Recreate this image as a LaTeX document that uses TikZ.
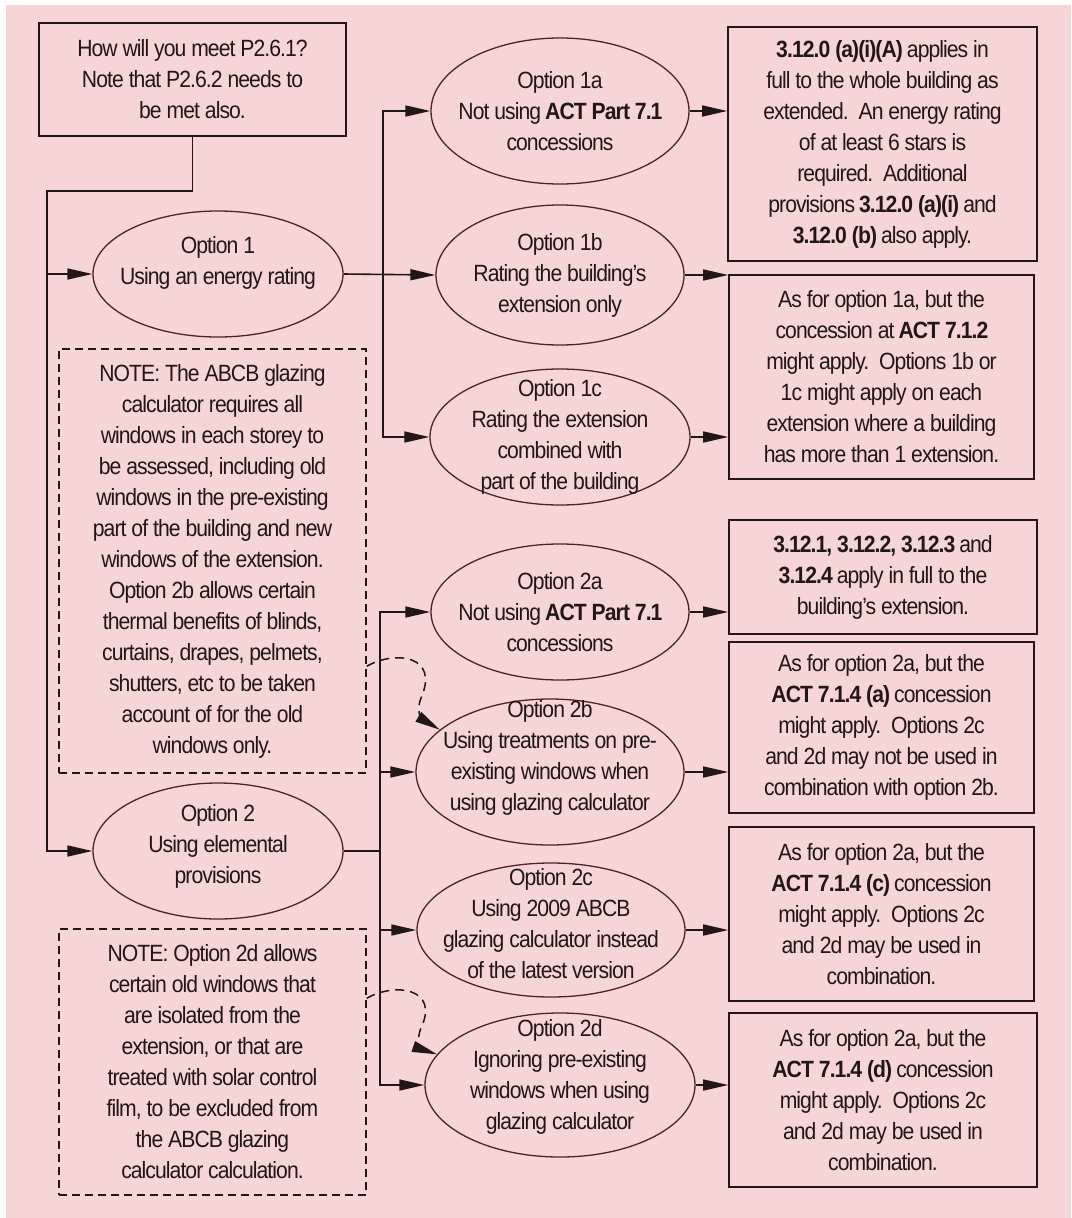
\documentclass[tikz,border=0pt]{standalone}
\usepackage{fontspec}
\setmainfont{Liberation Sans}[FakeStretch=0.9,LetterSpace=-4]
\usetikzlibrary{shapes.geometric,arrows.meta}
\definecolor{bg}{RGB}{245,213,214}
\definecolor{ink}{RGB}{35,22,22}
\definecolor{eline}{RGB}{80,35,35}
\begin{document}
\begin{tikzpicture}[x=1pt,y=-1pt,
 every node/.style={font=\fontsize{23.5}{31}\selectfont, text=ink},
 wh/.style 2 args={minimum width=#1pt, minimum height=#2pt},
 ell/.style={ellipse, draw=eline, line width=1.3pt, inner sep=0pt},
 txt/.style={align=center, inner sep=0pt},
 box/.style={rectangle, draw=ink, line width=1.6pt, inner sep=0pt, align=center},
 note/.style={rectangle, draw=ink, line width=1.4pt, dash pattern=on 8pt off 5pt, inner sep=0pt, align=center},
 conn/.style={draw=ink, line width=1.6pt},
 arr/.style={conn, -{Triangle[length=25pt,width=11pt]}},
 darr/.style={draw=ink, line width=1.5pt, dash pattern=on 9pt off 6pt, -{Triangle[length=25pt,width=11pt]}},
]
\fill[white] (0,0) rectangle (1071,1218);
\useasboundingbox (0,0) rectangle (1071,1218);
\fill[bg] (6,5) rectangle (1071,1218);

% top box
\node[box, wh={307}{113}] (top) at (192.5,79.5) {How will you meet P2.6.1?\\Note that P2.6.2 needs to\\be met also.};

% option 1 group
\node[ell, wh={250}{126}] (o1) at (218,274) {};
\node[txt] (o1t) at ([yshift=11pt]o1.center) {Option 1\\Using an energy rating};
\node[ell, wh={258}{146}] (o1a) at (560,111) {};
\node[txt] (o1at) at (o1a.center) {Option 1a\\Not using \textbf{ACT Part 7.1}\\concessions};
\node[ell, wh={248}{140}] (o1b) at (560,275) {};
\node[txt] (o1bt) at (o1b.center) {Option 1b\\Rating the building’s\\extension only};
\node[ell, wh={260}{136}] (o1c) at (560,437) {};
\node[txt] (o1ct) at (o1c.center) {Option 1c\\Rating the extension\\combined with\\part of the building};

\node[box, wh={309}{234}] (b1) at (882.5,144) {\textbf{3.12.0 (a)(i)(A)} applies in\\full to the whole building as\\extended.\ \ An energy rating\\of at least 6 stars is\\required.\ \ Additional\\provisions \textbf{3.12.0 (a)(i)} and\\\textbf{3.12.0 (b)} also apply.};
\node[box, wh={305}{204}] (b2) at (881.5,377) {As for option 1a, but the\\concession at \textbf{ACT 7.1.2}\\might apply.\ \ Options 1b or\\1c might apply on each\\extension where a building\\has more than 1 extension.};

% notes
\node[note, wh={307}{424}] (n1) at (212.5,561) {NOTE: The ABCB glazing\\calculator requires all\\windows in each storey to\\be assessed, including old\\windows in the pre-existing\\part of the building and new\\windows of the extension.\\Option 2b allows certain\\thermal benefits of blinds,\\curtains, drapes, pelmets,\\shutters, etc to be taken\\account of for the old\\windows only.};
\node[note, wh={307}{266}] (n2) at (212.5,1062) {NOTE: Option 2d allows\\certain old windows that\\are isolated from the\\extension, or that are\\treated with solar control\\film, to be excluded from\\the ABCB glazing\\calculator calculation.};

% option 2 group
\node[ell, wh={250}{136}] (o2) at (218,851) {};
\node[txt] (o2t) at ([yshift=5pt]o2.center) {Option 2\\Using elemental\\provisions};
\node[ell, wh={258}{136}] (o2a) at (560,612) {};
\node[txt] (o2at) at (o2a.center) {Option 2a\\Not using \textbf{ACT Part 7.1}\\concessions};
\node[ell, wh={268}{146}] (o2b) at (550,772) {};
\node[txt] (o2bt) at ([yshift=14pt]o2b.center) {Option 2b\\Using treatments on pre-\\existing windows when\\using glazing calculator};
\node[ell, wh={268}{134}] (o2c) at (551,930) {};
\node[txt] (o2ct) at ([yshift=6pt]o2c.center) {Option 2c\\Using 2009 ABCB\\glazing calculator instead\\of the latest version};
\node[ell, wh={270}{144}] (o2d) at (560,1085) {};
\node[txt] (o2dt) at ([yshift=8pt]o2d.center) {Option 2d\\Ignoring pre-existing\\windows when using\\glazing calculator};

\node[box, wh={308}{114}] (b3) at (883,577) {\textbf{3.12.1, 3.12.2, 3.12.3} and\\\textbf{3.12.4} apply in full to the\\building’s extension.};
\node[box, wh={305}{171}] (b4) at (881.5,727.5) {As for option 2a, but the\\\textbf{ACT 7.1.4 (a)} concession\\might apply.\ \ Options 2c\\and 2d may not be used in\\combination with option 2b.};
\node[box, wh={305}{174}] (b5) at (881.5,914) {As for option 2a, but the\\\textbf{ACT 7.1.4 (c)} concession\\might apply.\ \ Options 2c\\and 2d may be used in\\combination.};
\node[box, wh={308}{174}] (b6) at (883,1100) {As for option 2a, but the\\\textbf{ACT 7.1.4 (d)} concession\\might apply.\ \ Options 2c\\and 2d may be used in\\combination.};

% connectors
\coordinate (j1) at (47,191);
\coordinate (j2) at (47,274);
\draw[arr] (top.south) |- (j1) |- (o2.west);
\draw[arr] (j2) -- (o1.west);

\coordinate (bus1) at (383,274);
\draw[arr] (o1.east) -- (o1b.west);
\draw[arr] (bus1) |- (o1a.west);
\draw[arr] (bus1) |- (o1c.west);
\draw[arr] (o1a.east) -- (o1a.east -| b1.west);
\draw[arr] (o1b.east) -- (o1b.east -| b2.west);
\draw[arr] (o1c.east) -- (o1c.east -| b2.west);

\coordinate (bus2) at (380,851);
\draw[conn] (o2.east) -- (bus2);
\draw[arr] (bus2) |- (o2a.west);
\draw[arr] (bus2) |- (o2b.west);
\draw[arr] (bus2) |- (o2c.west);
\draw[arr] (bus2) |- (o2d.west);
\draw[arr] (o2a.east) -- (o2a.east -| b3.west);
\draw[arr] (o2b.east) -- (o2b.east -| b4.west);
\draw[arr] (o2c.east) -- (o2c.east -| b5.west);
\draw[arr] (o2d.east) -- (o2d.east -| b6.west);

% dashed note arrows
\draw[darr] ([yshift=-318pt]n1.north east) .. controls (395,650) and (440,655) .. (421,698) .. controls (416,710) and (422,719) .. (o2b.159);
\draw[darr] ([yshift=-70pt]n2.north east) .. controls (395,982) and (440,988) .. (421,1028) .. controls (416,1040) and (421,1049) .. (o2d.166);
\end{tikzpicture}
\end{document}
